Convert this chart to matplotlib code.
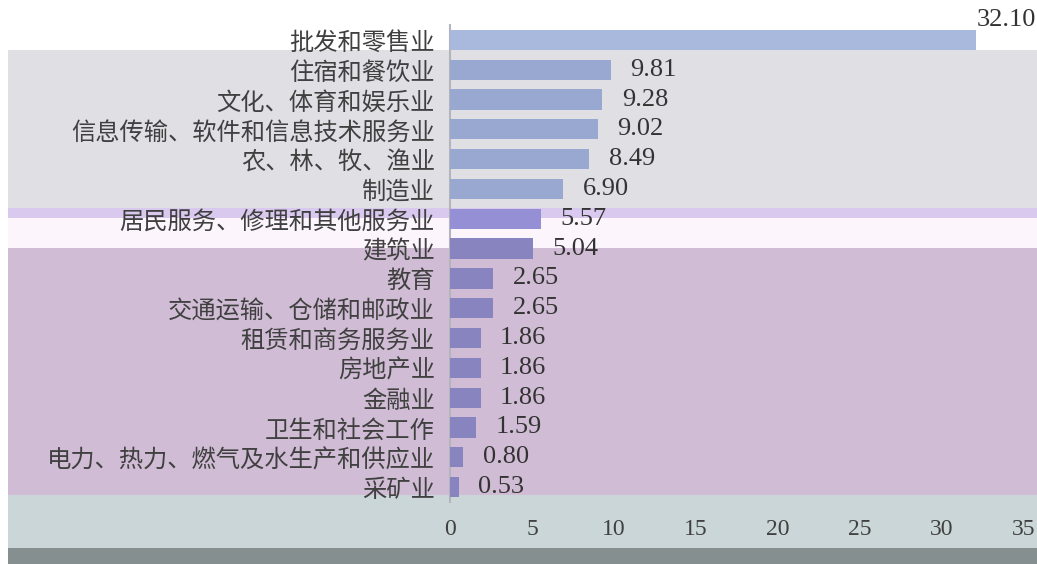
import matplotlib
matplotlib.use("Agg")
import matplotlib.pyplot as plt
from matplotlib.patches import Rectangle

# ---- data ----
categories = [
    "批发和零售业", "住宿和餐饮业", "文化、体育和娱乐业", "信息传输、软件和信息技术服务业",
    "农、林、牧、渔业", "制造业", "居民服务、修理和其他服务业", "建筑业", "教育",
    "交通运输、仓储和邮政业", "租赁和商务服务业", "房地产业", "金融业", "卫生和社会工作",
    "电力、热力、燃气及水生产和供应业", "采矿业",
]
values = [32.10, 9.81, 9.28, 9.02, 8.49, 6.90, 5.57, 5.04, 2.65, 2.65, 1.86, 1.86, 1.86, 1.59, 0.80, 0.53]
x_ticks = [0, 5, 10, 15, 20, 25, 30, 35]

W, H = 1037, 564
fig = plt.figure(figsize=(W / 100, H / 100), dpi=100)
fig.patch.set_facecolor("white")


def band(x0, y0, x1, y1, color):
    fig.add_artist(Rectangle((x0 / W, 1 - y1 / H), (x1 - x0) / W, (y1 - y0) / H,
                             transform=fig.transFigure, facecolor=color,
                             edgecolor="none", zorder=0))


# background bands
band(8, 50, W, 208, "#e0dfe4")
band(8, 208, W, 218, "#d9c9ee")
band(8, 218, W, 248, "#fdf5fc")
band(8, 248, W, 495, "#d0bdd5")
band(8, 495, W, 548, "#cad6d7")
band(8, 548, W, H, "#868f8f")

x0_px, unit_px = 450, 16.4
top_px, bot_px = 25, 502
ax = fig.add_axes([x0_px / W, 1 - bot_px / H, 35 * unit_px / W, (bot_px - top_px) / H])
ax.set_zorder(2)
ax.patch.set_visible(False)

n = len(categories)
ypos = list(range(n))
bar_colors = ["#a9b9de"] + ["#98a8d0"] * 5 + ["#9590d6"] + ["#8884c0"] * (n - 7)
ax.barh(ypos, values, height=0.68, color=bar_colors, zorder=3)

ax.set_ylim(n - 0.5, -0.5)
ax.set_xlim(0, 35)
ax.set_yticks(ypos)
ax.set_yticklabels(categories, fontsize=17.5, color="#404040", family=["Noto Sans CJK SC", "DejaVu Sans"])
ax.set_xticks(x_ticks)
ax.set_xticklabels([str(t) for t in x_ticks], fontsize=17, color="#404040", family="Liberation Serif")
ax.tick_params(axis="y", length=0, pad=11)
ax.tick_params(axis="x", length=0, pad=12)

for s in ["top", "right", "bottom"]:
    ax.spines[s].set_visible(False)
ax.spines["left"].set_color("#b4b4bc")
ax.spines["left"].set_linewidth(1.5)

for i, v in enumerate(values):
    if i == 0:
        ax.annotate(f"{v:.2f}", (v, i), xytext=(0, 14), textcoords="offset points",
                    ha="left", va="center", fontsize=19, color="#333333",
                    family="Liberation Serif")
    else:
        ax.annotate(f"{v:.2f}", (v, i), xytext=(14, 0), textcoords="offset points",
                    ha="left", va="center", fontsize=19, color="#333333",
                    family="Liberation Serif")

fig.savefig("out.png", dpi=100)
